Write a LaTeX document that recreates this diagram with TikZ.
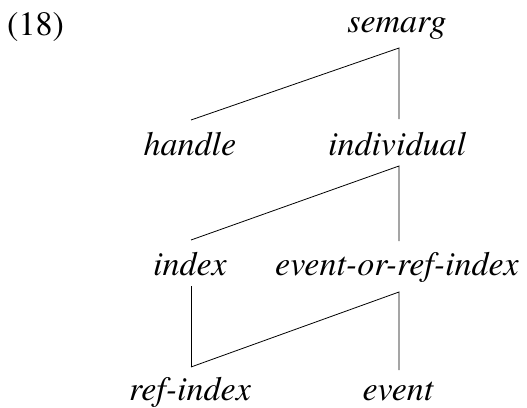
\documentclass[tikz,border=0pt]{standalone}
\usepackage{fontspec}
\setmainfont{texgyretermes}[Extension=.otf, UprightFont=*-regular, ItalicFont=*-italic, BoldFont=*-bold, BoldItalicFont=*-bolditalic]
\usetikzlibrary{calc}
\begin{document}
\begin{tikzpicture}[x=1pt,y=-1pt,
  lbl/.style={font=\fontsize{34}{40}\selectfont\itshape, anchor=base, inner sep=0pt},
  edge/.style={line width=0.8pt}]
\useasboundingbox (0,0) rectangle (527,407);
\node[lbl, font=\fontsize{34}{40}\selectfont, anchor=base west] (ex) at (7,35) {(18)};
\node[lbl] (semarg) at (397,32) {semarg};
\node[lbl] (handle) at (190,155) {handle};
\node[lbl] (individual) at (397,155) {individual};
\node[lbl] (index) at (190,275) {index};
\node[lbl] (eori) at (397,275) {event-or-ref-index};
\node[lbl] (refindex) at (190,400) {ref-index};
\node[lbl] (event) at (398,400) {event};
% semarg
\coordinate (s1) at ($(semarg.base)+(2,16)$);
\draw[edge] ($(handle.base)+(1,-35)$) -- (s1) -- ($(individual.base)+(2,-36)$);
% individual
\coordinate (s2) at ($(individual.base)+(2,11)$);
\draw[edge] ($(index.base)+(1,-35)$) -- (s2) -- ($(eori.base)+(2,-34)$);
% index -> ref-index
\draw[edge] ($(index.base)+(1,11)$) -- ($(refindex.base)+(1,-33)$) coordinate (s3);
% event-or-ref-index
\coordinate (s4) at ($(eori.base)+(2,17)$);
\draw[edge] (s3) -- (s4) -- ($(event.base)+(1,-30)$);
\end{tikzpicture}
\end{document}
